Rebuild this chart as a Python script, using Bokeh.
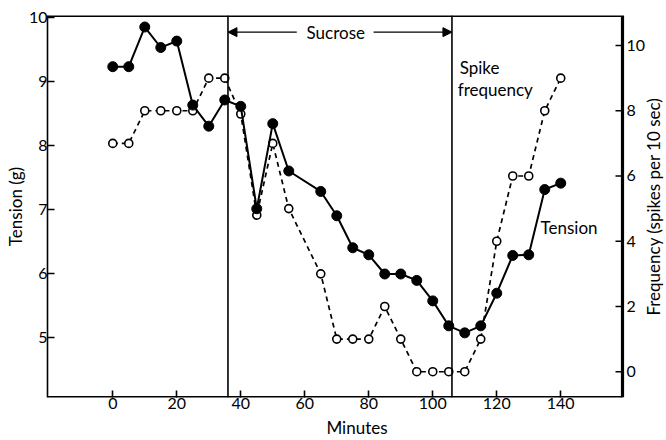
from bokeh.plotting import figure
from bokeh.models import Range1d, FixedTicker, Span, Label, Arrow, NormalHead
from bokeh.core.properties import value
from bokeh.embed import file_html
from bokeh.resources import INLINE
import math

# ---- data ----
minutes = [0, 5, 10, 15, 20, 25, 30, 35, 40, 45, 50, 55, 65, 70, 75, 80, 85, 90,
           95, 100, 105, 110, 115, 120, 125, 130, 135, 140]
tension = [9.23, 9.23, 9.85, 9.53, 9.63, 8.63, 8.30, 8.71, 8.61, 7.01, 8.34, 7.60,
           7.28, 6.90, 6.40, 6.29, 5.99, 5.99, 5.89, 5.57, 5.18, 5.07, 5.18, 5.69,
           6.28, 6.29, 7.31, 7.41]
frequency = [7, 7, 8, 8, 8, 8, 9, 9, 7.9, 4.8, 7, 5, 3, 1, 1, 1, 2, 1,
             0, 0, 0, 0, 1, 4, 6, 6, 8, 9]
x_ticks = [0, 20, 40, 60, 80, 100, 120, 140]
tension_ticks = [5, 6, 7, 8, 9, 10]
freq_ticks = [0, 2, 4, 6, 8, 10]
freq_tick_labels = ["0", "2", "4", "6", "8", "10"]
sucrose_start, sucrose_end = 36, 106

FONT = "Lato"

# axes box (data units)
X0, X1 = -20.4, 159.3
Y0, Y1 = 4.06, 10.03
F0, F1 = -0.79, 10.92
PX_PER_MIN = 575 / (X1 - X0)          # plotting box is 575 px wide
X_CANVAS_END = X0 + 619 / PX_PER_MIN  # frame continues to the canvas edge

p = figure(width=666, height=440, output_backend="svg", toolbar_location=None,
           x_range=Range1d(X0, X_CANVAS_END), y_range=Range1d(Y0, Y1),
           min_border_left=47, min_border_right=0, min_border_top=15,
           min_border_bottom=43, background_fill_color="white",
           border_fill_color="white")
p.extra_y_ranges = {"freq": Range1d(F0, F1)}
p.xgrid.visible = False
p.ygrid.visible = False
p.outline_line_color = None


def style_axis(ax, label, standoff):
    ax.axis_line_color = "black"
    ax.axis_line_width = 1.6
    ax.major_tick_in = 7
    ax.major_tick_out = 0
    ax.major_tick_line_width = 1.6
    ax.major_tick_line_color = "black"
    ax.minor_tick_line_color = None
    ax.major_label_text_font = FONT
    ax.major_label_text_font_size = "16px"
    ax.major_label_text_color = "black"
    ax.major_label_standoff = 0
    ax.axis_label = label
    ax.axis_label_text_font = FONT
    ax.axis_label_text_font_size = "17px"
    ax.axis_label_text_font_style = "normal"
    ax.axis_label_text_color = "black"
    ax.axis_label_standoff = standoff


p.xaxis.ticker = FixedTicker(ticks=x_ticks)
p.yaxis.ticker = FixedTicker(ticks=tension_ticks)
style_axis(p.xaxis[0], "Minutes", 5)
style_axis(p.yaxis[0], "Tension (g)", 0)
p.xaxis.axis_line_color = None

# box: top, right and bottom edges
p.line([X0, X1, X1], [Y1, Y1, Y0], line_color="black", line_width=3.2)
p.line([X0, X1], [Y0, Y0], line_color="black", line_width=3.2)

# right-hand frequency axis: ticks, tick labels and title
tick_len = 7 / PX_PER_MIN
p.segment(x0=[X1 - tick_len] * len(freq_ticks), y0=freq_ticks,
          x1=[X1] * len(freq_ticks), y1=freq_ticks, y_range_name="freq",
          line_color="black", line_width=1.6)
p.text(x=[X1 + 4 / PX_PER_MIN] * len(freq_ticks), y=freq_ticks,
       text=freq_tick_labels, y_range_name="freq", text_font=value(FONT),
       text_font_size="16px", text_color="black", text_align="left",
       text_baseline="middle")
p.text(x=[X1 + 31 / PX_PER_MIN], y=[(Y0 + Y1) / 2],
       text=["Frequency (spikes per 10 sec)"], angle=math.pi / 2,
       text_font=value(FONT), text_font_size="17px", text_color="black",
       text_align="center", text_baseline="middle")

# sucrose period lines
for loc in (sucrose_start, sucrose_end):
    p.add_layout(Span(location=loc, dimension="height", line_color="black",
                      line_width=1.6))

# frequency series (dashed, open circles)
p.line(minutes, frequency, y_range_name="freq", line_color="black",
       line_width=1.7, line_dash="5 4")
p.scatter(minutes, frequency, y_range_name="freq", size=8, marker="circle",
          fill_color="white", line_color="black", line_width=1.6)

# tension series (solid, filled circles)
p.line(minutes, tension, line_color="black", line_width=2)
p.scatter(minutes, tension, size=10, marker="circle", fill_color="black",
          line_color="black")

# Sucrose arrow annotation
arrow_y = 9.77
p.add_layout(Arrow(end=NormalHead(size=9, fill_color="black", line_color="black"),
                   x_start=57.5, y_start=arrow_y, x_end=sucrose_start, y_end=arrow_y,
                   line_width=1.2, line_color="black"))
p.add_layout(Arrow(end=NormalHead(size=9, fill_color="black", line_color="black"),
                   x_start=81.5, y_start=arrow_y, x_end=sucrose_end, y_end=arrow_y,
                   line_width=1.2, line_color="black"))


def lab(text, x, y, align="left", size="17px"):
    p.add_layout(Label(text=text, x=x, y=y, text_font=FONT, text_font_size=size,
                       text_color="black", text_align=align, text_baseline="middle"))


lab("Sucrose", 69.7, arrow_y, align="center")
lab("Spike", 108.4, 9.21)
lab("frequency", 107.8, 8.87)
lab("Tension", 133.7, 6.72)

open("out.html", "w").write(file_html(p, INLINE))
